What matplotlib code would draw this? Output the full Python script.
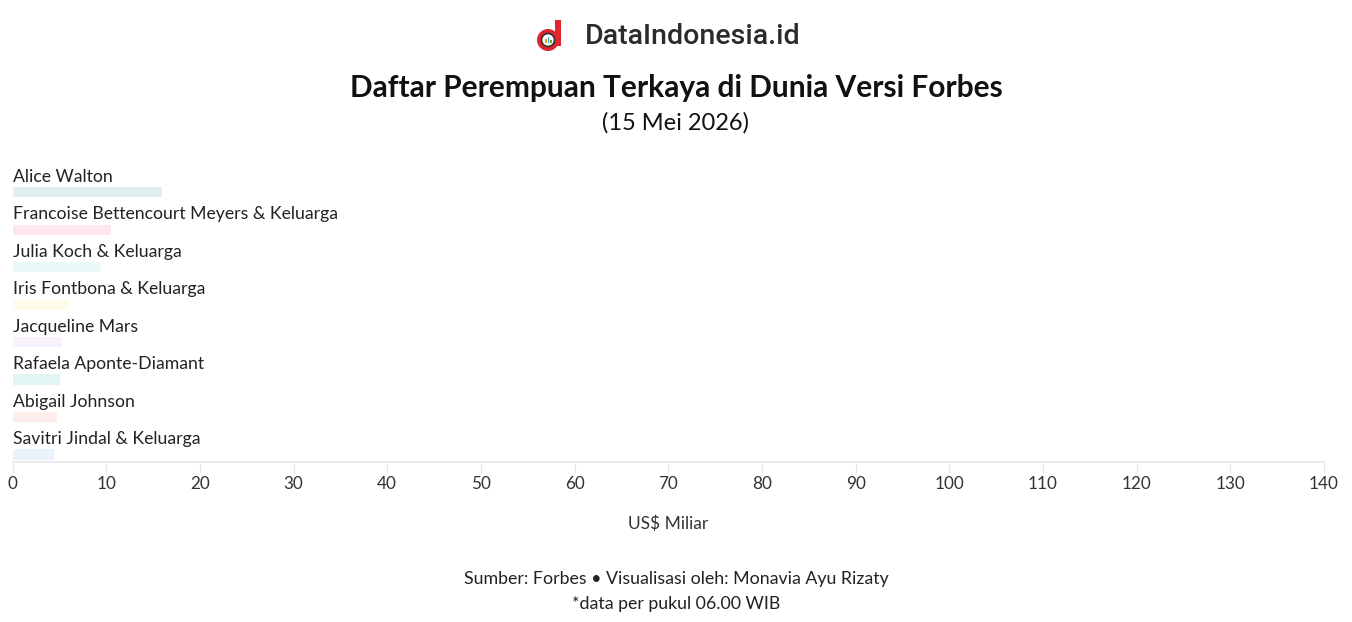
import matplotlib.pyplot as plt
from matplotlib.patches import Circle, Rectangle

names = ["Alice Walton", "Francoise Bettencourt Meyers & Keluarga", "Julia Koch & Keluarga",
         "Iris Fontbona & Keluarga", "Jacqueline Mars", "Rafaela Aponte-Diamant",
         "Abigail Johnson", "Savitri Jindal & Keluarga"]
values = [16.0, 10.5, 9.4, 6.0, 5.3, 5.1, 4.75, 4.4]
colors = ["#e0f0f1", "#fce8ee", "#eaf9fa", "#fffbeb", "#f6f1fb", "#e2f5f3", "#fdeeec", "#e8f3fe"]
xticks = list(range(0, 141, 10))

plt.rcParams['font.family'] = ['Lato', 'DejaVu Sans']

fig = plt.figure(figsize=(13.52, 6.22), dpi=100)
ax = fig.add_axes([12.5/1352, (622-462)/622, (1324-12.5)/1352, 307/622])

pos = list(range(len(names)))
ax.barh(pos, values, height=0.267, color=colors)
for i, n in enumerate(names):
    ax.text(0.05, i - 0.41, n, va="center", ha="left", fontsize=12.7, color="#222222")

ax.set_xlim(0, 140)
ax.set_ylim(7.2, -0.987)
ax.set_yticks([])
ax.set_xticks(xticks)
ax.tick_params(axis="x", length=8, color="#e6e6e6", labelsize=12.3, labelcolor="#333333", pad=2)
for s in ["top", "right", "left"]:
    ax.spines[s].set_visible(False)
ax.spines["bottom"].set_color("#e6e6e6")
ax.spines["bottom"].set_linewidth(1.2)
ax.set_xlabel("US$ Miliar", fontsize=12.5, color="#333333", labelpad=17)

# header
fig.text(0.5, 1 - 88/622, "Daftar Perempuan Terkaya di Dunia Versi Forbes", ha="center", va="center",
         fontsize=21.5, fontweight="bold", color="#111111")
fig.text(0.5, 1 - 123/622, "(15 Mei 2026)", ha="center", va="center", fontsize=17, color="#111111")

# logo
fig.text(585/1352, 1 - 36/622, "DataIndonesia.id", ha="left", va="center", fontsize=20.5,
         family="Roboto", fontweight="medium", color="#2b2b2b")
lax = fig.add_axes([533/1352, 1 - 54/622, 36/1352, 36/622])
lax.set_xlim(0, 36)
lax.set_ylim(0, 36)
lax.set_aspect("equal")
lax.axis("off")
lax.add_patch(Circle((15, 14), 11, facecolor="#e0262c", edgecolor="none"))
lax.add_patch(Rectangle((22, 8), 5.5, 26, facecolor="#e0262c", edgecolor="none"))
lax.add_patch(Circle((15, 14), 6.5, facecolor="white", edgecolor="#333333", linewidth=1.2))
lax.add_patch(Rectangle((12, 11), 1.5, 4, facecolor="#f2a20c"))
lax.add_patch(Rectangle((14.5, 11), 1.5, 6, facecolor="#2aa4d8"))
lax.add_patch(Rectangle((17, 11), 1.5, 3, facecolor="#4caf50"))

# footer
fig.text(0.5, 1 - 579/622, "Sumber: Forbes \u2022 Visualisasi oleh: Monavia Ayu Rizaty", ha="center",
         va="center", fontsize=12.8, color="#222222")
fig.text(0.5, 1 - 604/622, "*data per pukul 06.00 WIB", ha="center", va="center", fontsize=12.8,
         color="#222222")

fig.savefig("out.png", dpi=100, facecolor="white")
